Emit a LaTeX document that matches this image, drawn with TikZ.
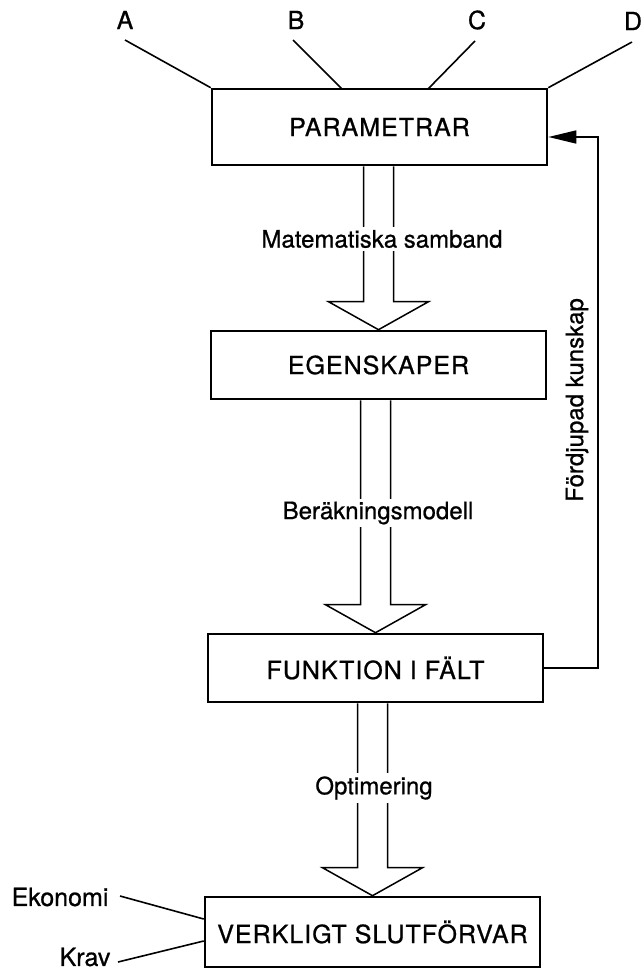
\documentclass[tikz,border=0pt]{standalone}
\usepackage{fontspec}
\setmainfont{TeX Gyre Heros}[FakeBold=0.8]
\newfontfamily\boxfont{TeX Gyre Heros}[FakeBold=0.8,LetterSpace=4]
\usetikzlibrary{arrows.meta,calc}

% Hollow block arrow from the bottom of one box to the top of the next
\newcommand{\hollowarrow}[2]{%
  \path (#1.south -| #2.north) coordinate (hs) (#2.north) coordinate (ht);
  \draw[hollow] ($(hs)+(-15,0)$) -- ($(ht)+(-15,-28)$) -- ($(ht)+(-50,-28)$)
    -- (ht) -- ($(ht)+(50,-28)$) -- ($(ht)+(15,-28)$) -- ($(hs)+(15,0)$);}

\begin{document}
\begin{tikzpicture}[x=1pt,y=-1pt,
  box/.style={draw,line width=2.6pt,minimum width=335pt,inner sep=0pt,
    font=\boxfont\fontsize{25}{30}\selectfont},
  lbl/.style={font=\fontsize{24}{28}\selectfont,inner sep=2pt},
  biglbl/.style={font=\fontsize{25}{29}\selectfont,inner sep=2pt},
  gaplbl/.style={lbl,fill=white,inner sep=3pt},
  conn/.style={line width=1.6pt},
  hollow/.style={line width=1.5pt,line join=miter}]

\useasboundingbox (0,0) rectangle (643,971);

% boxes
\node[box,minimum height=76pt] (par) at (379.5,127) {PARAMETRAR};
\node[box,minimum height=68pt] (ege) at (378.5,365) {EGENSKAPER};
\node[box,minimum height=68pt] (fun) at (375.5,668) {FUNKTION I FÄLT};
\node[box,minimum height=70pt] (ver) at (372.5,932) {VERKLIGT SLUTFÖRVAR};

% inputs A-D
\node[biglbl] (la) at (125,20) {A};
\node[biglbl] (lb) at (296,20) {B};
\node[biglbl] (lc) at (477,20) {C};
\node[biglbl] (ld) at (633,21) {D};
\coordinate (a1) at (125,40);
\coordinate (b1) at (293,40);
\coordinate (c1) at (475,41);
\coordinate (d1) at (632,42);
\coordinate (b2) at (342,89);
\coordinate (c2) at (428,89);
\draw[conn] (a1) -- (par.north west);
\draw[conn] (b1) -- (b2);
\draw[conn] (c1) -- (c2);
\draw[conn] (d1) -- (par.north east);

% block arrows between boxes
\hollowarrow{par}{ege}
\hollowarrow{ege}{fun}
\hollowarrow{fun}{ver}
\node[gaplbl] (m1) at (382,239) {Matematiska samband};
\node[gaplbl] (m2) at (378,513) {Beräkningsmodell};
\node[gaplbl] (m3) at (374,788) {Optimering};

% feedback loop
\coordinate (fbtop) at (598,137);
\coordinate (fbin) at (par.east |- fbtop);
\draw[conn,-{Triangle[length=28pt,width=13pt]}] (fun.east) -| (fbtop) -- (fbin);
\node[lbl,rotate=90] (fb) at (577,400) {Fördjupad kunskap};

% side inputs
\node[biglbl] (eko) at (60,897) {Ekonomi};
\node[biglbl] (krav) at (85,957) {Krav};
\coordinate (e1) at (120,896);
\coordinate (k1) at (118,962);
\draw[conn] (e1) -- ($(ver.west)+(0,-13)$);
\draw[conn] (k1) -- ($(ver.west)+(0,9)$);
\end{tikzpicture}
\end{document}
